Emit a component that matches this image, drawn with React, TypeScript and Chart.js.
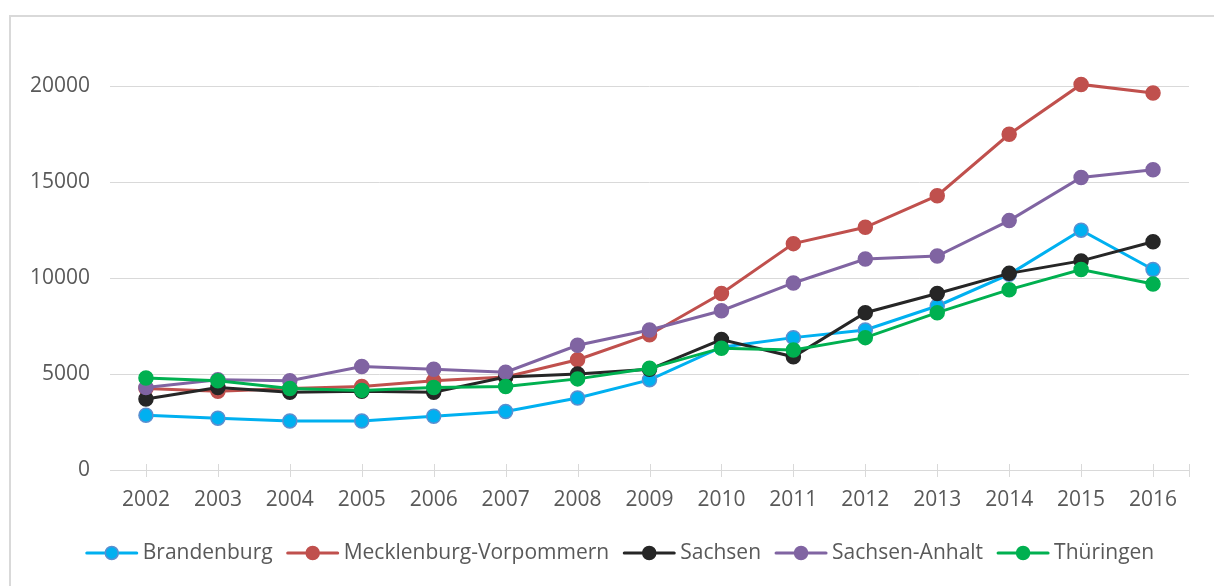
import React, { useEffect, useRef } from "react";
import { Chart, registerables } from "chart.js";

Chart.register(...registerables);

const years = ["2002", "2003", "2004", "2005", "2006", "2007", "2008", "2009", "2010", "2011", "2012", "2013", "2014", "2015", "2016"];
const brandenburg = [2850, 2700, 2550, 2550, 2800, 3050, 3750, 4700, 6400, 6900, 7300, 8550, 10200, 12500, 10450];
const mecklenburg = [4250, 4100, 4250, 4350, 4650, 4850, 5750, 7050, 9200, 11800, 12650, 14300, 17500, 20100, 19650];
const sachsen = [3700, 4300, 4050, 4100, 4050, 4850, 5000, 5250, 6800, 5900, 8200, 9200, 10250, 10900, 11900];
const sachsenAnhalt = [4300, 4700, 4650, 5400, 5250, 5100, 6500, 7300, 8300, 9750, 11000, 11150, 13000, 15250, 15650];
const thueringen = [4800, 4650, 4250, 4150, 4300, 4350, 4750, 5300, 6350, 6250, 6900, 8200, 9400, 10450, 9700];
const yTicks = [0, 5000, 10000, 15000, 20000];

const FONT = "'Open Sans', sans-serif";
const TEXT = "#595959";
const GRID = "#d9d9d9";

const seriesDefs = [
  { label: "Brandenburg", data: brandenburg, color: "#00b0f0", border: "#5b8fd0", order: 4 },
  { label: "Mecklenburg-Vorpommern", data: mecklenburg, color: "#c0504d", border: "#c0504d", order: 3 },
  { label: "Sachsen", data: sachsen, color: "#262626", border: "#262626", order: 2 },
  { label: "Sachsen-Anhalt", data: sachsenAnhalt, color: "#8064a2", border: "#8064a2", order: 1 },
  { label: "Thüringen", data: thueringen, color: "#00b050", border: "#00b050", order: 0 },
];

const axisPlugin = {
  id: "axisTicks",
  beforeDatasetsDraw(chart: any) {
    const ctx = chart.ctx;
    const xs = chart.scales.x;
    const bottom = chart.chartArea.bottom;
    ctx.save();
    ctx.strokeStyle = GRID;
    ctx.lineWidth = 1;
    ctx.beginPath();
    ctx.moveTo(chart.chartArea.left, bottom + 0.5);
    ctx.lineTo(chart.chartArea.right, bottom + 0.5);
    const positions: number[] = years.map((_, i) => xs.getPixelForValue(i));
    positions.push(chart.chartArea.right);
    positions.forEach((px) => {
      const x = Math.round(px) + 0.5;
      ctx.moveTo(x, bottom - 6);
      ctx.lineTo(x, bottom + 7);
    });
    ctx.stroke();
    ctx.restore();
  },
};

const legendPlugin = {
  id: "customLegend",
  afterDraw(chart: any) {
    const ctx = chart.ctx;
    ctx.save();
    ctx.font = `21px ${FONT}`;
    const markerW = 52;
    const gapText = 5;
    const gapItem = 14;
    const items = chart.data.datasets.map((ds: any) => ({
      label: ds.label,
      color: ds.borderColor,
      fill: ds.pointBackgroundColor,
      border: ds.pointBorderColor,
      w: markerW + gapText + ctx.measureText(ds.label).width,
    }));
    const total = items.reduce((s: number, it: any) => s + it.w, 0) + gapItem * (items.length - 1);
    let x = 620 - total / 2;
    const y = 553;
    items.forEach((it: any) => {
      ctx.strokeStyle = it.color;
      ctx.lineWidth = 3;
      ctx.lineCap = "round";
      ctx.beginPath();
      ctx.moveTo(x + 1, y);
      ctx.lineTo(x + markerW - 1, y);
      ctx.stroke();
      ctx.beginPath();
      ctx.arc(x + markerW / 2, y, 6.5, 0, Math.PI * 2);
      ctx.fillStyle = it.fill;
      ctx.fill();
      ctx.lineWidth = 1.5;
      ctx.strokeStyle = it.border;
      ctx.stroke();
      ctx.fillStyle = TEXT;
      ctx.textBaseline = "middle";
      ctx.textAlign = "left";
      ctx.fillText(it.label, x + markerW + gapText, y);
      x += it.w + gapItem;
    });
    ctx.restore();
  },
};

export default function App() {
  const ref = useRef<HTMLCanvasElement | null>(null);

  useEffect(() => {
    if (!ref.current) return;
    const chart = new Chart(ref.current, {
      type: "line",
      data: {
        labels: years,
        datasets: seriesDefs.map((s) => ({
          label: s.label,
          data: s.data,
          borderColor: s.color,
          backgroundColor: s.color,
          pointBackgroundColor: s.color,
          pointBorderColor: s.border,
          pointBorderWidth: 1.5,
          pointRadius: 7,
          borderWidth: 3,
          tension: 0,
          order: s.order,
        })),
      },
      options: {
        animation: false,
        responsive: false,
        maintainAspectRatio: false,
        layout: { padding: { left: 0, right: 25, top: 30, bottom: 0 } },
        plugins: {
          legend: { display: false },
          tooltip: { enabled: false },
        },
        scales: {
          x: {
            offset: true,
            grid: { display: false, drawTicks: false },
            border: { display: false },
            ticks: {
              color: TEXT,
              font: { family: FONT, size: 21 },
              padding: 17,
              maxRotation: 0,
              autoSkip: false,
            },
            afterFit(scale: any) {
              scale.height = 116;
            },
          },
          y: {
            min: 0,
            max: 22800,
            grid: { color: GRID, lineWidth: 1, drawTicks: false },
            border: { display: false },
            ticks: {
              color: TEXT,
              font: { family: FONT, size: 21 },
              padding: 20,
              stepSize: 5000,
              callback: (v: any) => String(v),
            },
            afterBuildTicks(scale: any) {
              scale.ticks = yTicks.map((v) => ({ value: v }));
            },
            afterFit(scale: any) {
              scale.width = 110;
            },
          },
        },
      },
      plugins: [axisPlugin, legendPlugin],
    });
    return () => chart.destroy();
  }, []);

  return (
    <div style={{ position: "absolute", left: 0, top: 0, width: 1214, height: 586, overflow: "hidden", background: "#fff" }}>
      <div
        style={{
          position: "absolute",
          left: 9,
          top: 15,
          width: 1300,
          height: 700,
          borderLeft: `2px solid ${GRID}`,
          borderTop: `2px solid ${GRID}`,
        }}
      />
      <canvas ref={ref} width={1214} height={586} style={{ position: "absolute", left: 0, top: 0, width: 1214, height: 586 }} />
    </div>
  );
}
